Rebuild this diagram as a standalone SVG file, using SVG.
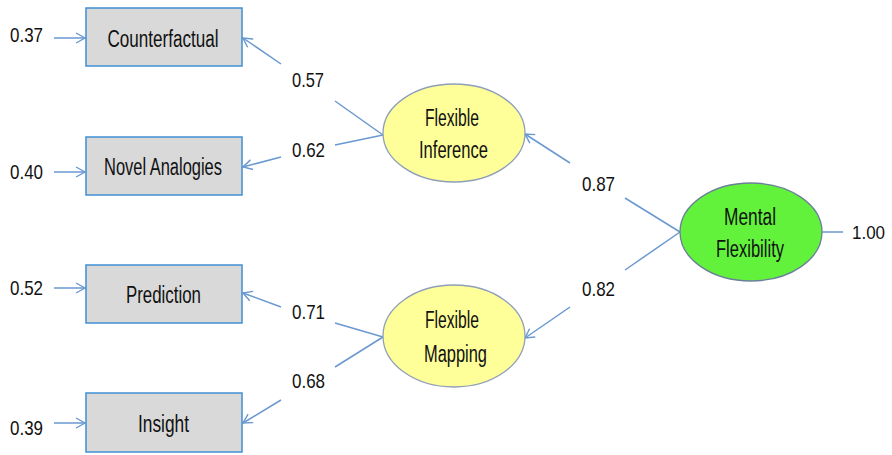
<svg xmlns="http://www.w3.org/2000/svg" width="892" height="455" viewBox="0 0 892 455">
<defs>
<marker id="arr" markerWidth="12" markerHeight="12" viewBox="0 0 12 12" refX="11" refY="6" orient="auto" markerUnits="userSpaceOnUse">
<path d="M2,1 L11,6 L2,11" fill="none" stroke="#6a98d0" stroke-width="1.4"/>
</marker>
</defs>
<style>
text{font-family:"Liberation Sans",Arial,sans-serif;fill:#111;}
.n{font-size:23px;text-anchor:middle;}
.v{font-size:21px;}
.box{fill:#d9d9d9;stroke:#3f8fd2;stroke-width:1.5;}
.lat{fill:#ffff99;stroke:#8f9fb8;stroke-width:1.3;}
.top{fill:#62f23c;stroke:#6b7f9a;stroke-width:1.3;}
.c line{stroke:#6a98d0;stroke-width:1.5;fill:none;}
</style>
<rect width="892" height="455" fill="#fff"/>
<g class="c" id="connectors">
<line x1="54" y1="38" x2="85" y2="38" marker-end="url(#arr)"/>
<line x1="54" y1="172" x2="85" y2="172" marker-end="url(#arr)"/>
<line x1="54" y1="288" x2="85" y2="288" marker-end="url(#arr)"/>
<line x1="54" y1="423" x2="85" y2="423" marker-end="url(#arr)"/>
<line x1="383" y1="135" x2="335" y2="101"/>
<line x1="281" y1="64" x2="243" y2="38" marker-end="url(#arr)"/>
<line x1="383" y1="135" x2="335" y2="145"/>
<line x1="281" y1="157" x2="243" y2="167" marker-end="url(#arr)"/>
<line x1="383" y1="337" x2="335" y2="323"/>
<line x1="281" y1="307" x2="243" y2="293" marker-end="url(#arr)"/>
<line x1="383" y1="337" x2="335" y2="367"/>
<line x1="281" y1="400" x2="243" y2="423" marker-end="url(#arr)"/>
<line x1="680" y1="232" x2="625" y2="198"/>
<line x1="570" y1="163" x2="525" y2="134" marker-end="url(#arr)"/>
<line x1="680" y1="232" x2="625" y2="270"/>
<line x1="570" y1="307" x2="525" y2="338" marker-end="url(#arr)"/>
<line x1="822" y1="232" x2="843" y2="232"/>
</g>
<g id="labels">
<text class="v" x="10" y="42" textLength="33" lengthAdjust="spacingAndGlyphs">0.37</text>
<text class="v" x="10" y="179" textLength="33" lengthAdjust="spacingAndGlyphs">0.40</text>
<text class="v" x="10" y="295" textLength="33" lengthAdjust="spacingAndGlyphs">0.52</text>
<text class="v" x="10" y="435" textLength="33" lengthAdjust="spacingAndGlyphs">0.39</text>
<text class="v" x="292" y="87" textLength="32" lengthAdjust="spacingAndGlyphs">0.57</text>
<text class="v" x="292" y="157" textLength="33" lengthAdjust="spacingAndGlyphs">0.62</text>
<text class="v" x="292" y="319" textLength="33" lengthAdjust="spacingAndGlyphs">0.71</text>
<text class="v" x="292" y="388" textLength="33" lengthAdjust="spacingAndGlyphs">0.68</text>
<text class="v" x="582" y="191" textLength="33" lengthAdjust="spacingAndGlyphs">0.87</text>
<text class="v" x="582" y="296" textLength="33" lengthAdjust="spacingAndGlyphs">0.82</text>
<text x="852" y="239" font-size="19" textLength="33" lengthAdjust="spacingAndGlyphs">1.00</text>
</g>
<g id="counterfactual">
<rect class="box" x="86" y="8" width="156" height="58"/>
<text class="n" x="163" y="47" textLength="111" lengthAdjust="spacingAndGlyphs">Counterfactual</text>
</g>
<g id="novel-analogies">
<rect class="box" x="86" y="137" width="156" height="58"/>
<text class="n" x="163" y="175" textLength="118" lengthAdjust="spacingAndGlyphs">Novel Analogies</text>
</g>
<g id="prediction">
<rect class="box" x="86" y="265" width="156" height="58"/>
<text class="n" x="163.5" y="303" textLength="75" lengthAdjust="spacingAndGlyphs">Prediction</text>
</g>
<g id="insight">
<rect class="box" x="86" y="393" width="156" height="59"/>
<text class="n" x="163.5" y="432" textLength="51" lengthAdjust="spacingAndGlyphs">Insight</text>
</g>
<g id="flexible-inference">
<ellipse class="lat" cx="454" cy="133" rx="71" ry="49"/>
<text class="n" x="452" y="126" textLength="54" lengthAdjust="spacingAndGlyphs">Flexible</text>
<text class="n" x="453.5" y="158" textLength="69" lengthAdjust="spacingAndGlyphs">Inference</text>
</g>
<g id="flexible-mapping">
<ellipse class="lat" cx="454" cy="336" rx="71" ry="51"/>
<text class="n" x="452" y="328" textLength="54" lengthAdjust="spacingAndGlyphs">Flexible</text>
<text class="n" x="455.5" y="362" textLength="63" lengthAdjust="spacingAndGlyphs">Mapping</text>
</g>
<g id="mental-flexibility">
<ellipse class="top" cx="751" cy="232" rx="71" ry="49"/>
<text class="n" x="750" y="225" textLength="52" lengthAdjust="spacingAndGlyphs">Mental</text>
<text class="n" x="750" y="257" textLength="68" lengthAdjust="spacingAndGlyphs">Flexibility</text>
</g>
</svg>
